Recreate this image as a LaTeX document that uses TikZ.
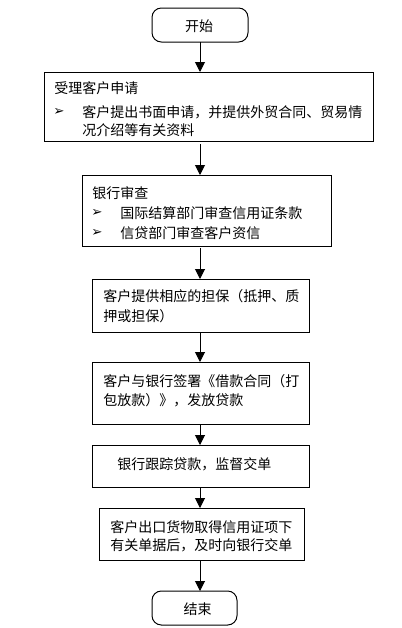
\documentclass[tikz,border=0pt]{standalone}
\usepackage{fontspec}
\usetikzlibrary{arrows.meta}
\newfontfamily\cjk{Noto Sans CJK SC}
\newfontfamily\dvs{DejaVu Sans}
\newcommand\pbox[6]{\node[#6,minimum width={(#4-#2)*0.75pt},minimum height={(#5-#3)*0.75pt}] (#1) at ({(#2+#4)/2},{(#3+#5)/2}) {};}
\newcommand\blt{{\dvs\fontsize{10pt}{11pt}\selectfont ➢}}
\begin{document}
\begin{tikzpicture}[x=0.75pt,y=-0.75pt,
  box/.style={draw,line width=0.75pt,inner sep=0pt,outer sep=0pt,fill=white},
  term/.style={box,rounded corners=7pt},
  txt/.style={inner sep=0pt,anchor=west,font=\cjk\fontsize{10.5pt}{12pt}\selectfont},
  ctxt/.style={txt,anchor=center},
  arr/.style={line width=0.75pt,-{Triangle[width=7.5pt,length=7.5pt]}}]
\useasboundingbox[fill=white] (0,0) rectangle (402,628);
% boxes
\pbox{start}{152}{8}{248}{42}{term}
\pbox{b1}{44}{72}{373}{141}{box}
\pbox{b2}{82}{175}{331}{246}{box}
\pbox{b3}{92}{279}{309}{332}{box}
\pbox{b4}{92}{362}{309}{424}{box}
\pbox{b5}{92}{445}{309}{487}{box}
\pbox{b6}{99}{508}{304}{560}{box}
\pbox{stop}{152}{591}{237}{625}{term}
% texts
\node[ctxt] (t0) at (199,26) {开始};
\node[txt] (t11) at (54,88) {受理客户申请};
\node[txt] (u11) at (53,112) {\blt};
\node[txt] (t12) at (82,112) {客户提出书面申请，并提供外贸合同、贸易情};
\node[txt] (t13) at (82,130) {况介绍等有关资料};
\node[txt] (t21) at (92,193) {银行审查};
\node[txt] (u21) at (91,213) {\blt};
\node[txt] (t22) at (120,213) {国际结算部门审查信用证条款};
\node[txt] (u22) at (91,233) {\blt};
\node[txt] (t23) at (120,233) {信贷部门审查客户资信};
\node[txt] (t31) at (103,296) {客户提供相应的担保（抵押、质};
\node[txt] (t32) at (103,316) {押或担保）};
\node[txt] (t41) at (103,381) {客户与银行签署《借款合同（打};
\node[txt] (t42) at (103,400) {包放款）》，发放贷款};
\node[txt] (t51) at (117,464) {银行跟踪贷款，监督交单};
\node[txt] (t61) at (110,527) {客户出口货物取得信用证项下};
\node[txt] (t62) at (110,545) {有关单据后，及时向银行交单};
\node[ctxt] (t7) at (197.5,609) {结束};
% arrows
\coordinate (ax) at (200,0);
\draw[arr] (start.south) -- (b1.north -| ax);
\draw[arr,shorten <=2.25pt] (b1.south -| ax) -- (b2.north -| ax);
\draw[arr,shorten <=1.5pt] (b2.south -| ax) -- (b3.north -| ax);
\draw[arr] (b3.south -| ax) -- (b4.north -| ax);
\draw[arr] (b4.south -| ax) -- (b5.north -| ax);
\draw[arr] (b5.south -| ax) -- (b6.north -| ax);
\draw[arr] (b6.south -| ax) -- (stop.north -| ax);
\end{tikzpicture}
\end{document}
